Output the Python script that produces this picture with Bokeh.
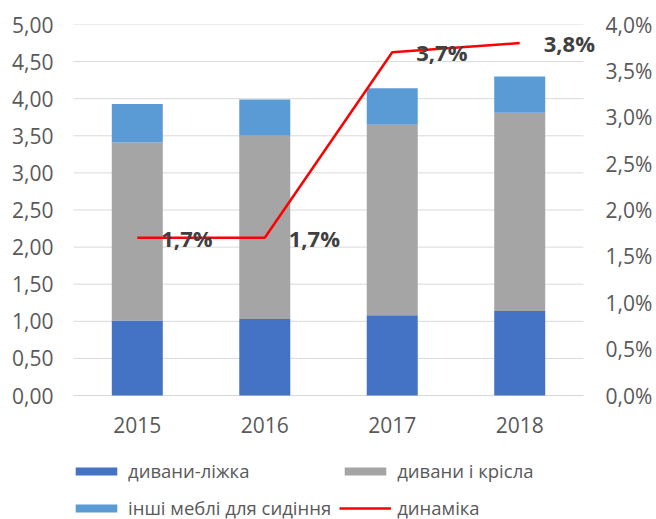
from bokeh.plotting import figure
from bokeh.models import (Range1d, LinearAxis, FixedTicker, CustomJSTickFormatter,
                          Legend, LegendItem, ColumnDataSource, LabelSet)
from bokeh.embed import file_html
from bokeh.resources import INLINE
from bokeh.core.properties import value

# ---- data ----
years = ["2015", "2016", "2017", "2018"]
sofa_beds = [1.01, 1.03, 1.08, 1.14]          # дивани-ліжка
sofas_chairs = [2.40, 2.47, 2.57, 2.67]       # дивани і крісла
other_seating = [0.52, 0.49, 0.49, 0.49]      # інші меблі для сидіння
dynamics = [1.7, 1.7, 3.7, 3.8]               # динаміка, %
dyn_labels = ["1,7%", "1,7%", "3,7%", "3,8%"]
left_ticks = [0, 0.5, 1, 1.5, 2, 2.5, 3, 3.5, 4, 4.5, 5]
right_ticks = [0, 0.5, 1, 1.5, 2, 2.5, 3, 3.5, 4]
series_names = ["дивани-ліжка", "дивани і крісла", "інші меблі для сидіння", "динаміка"]
colors = ["#4472C4", "#A5A5A5", "#5B9BD5"]

FONT = "Open Sans"
TXT = "#595959"
TICK_SIZE = "21px"

n = len(years)
xs = [i + 0.5 for i in range(n)]   # category centres
y_max, pct_max = left_ticks[-1], right_ticks[-1]
# the frame also holds the year labels and legend below the zero line
below_frac = 124 / 371

src = ColumnDataSource(dict(x=xs, a=sofa_beds, b=sofas_chairs, c=other_seating,
                            dyn=dynamics, lbl=dyn_labels, year=years, zero=[0] * n))
grid_src = ColumnDataSource(dict(y=left_ticks, x0=[0] * len(left_ticks), x1=[n] * len(left_ticks)))

p = figure(x_range=Range1d(-0.024, n + 0.118),
           y_range=Range1d(-y_max * below_frac, y_max),
           width=656, height=519, x_axis_location=None,
           output_backend="svg", toolbar_location=None,
           min_border_left=70, min_border_right=58, min_border_top=24, min_border_bottom=0)
p.outline_line_color = None
p.background_fill_color = "white"
p.border_fill_color = "white"
p.xgrid.visible = False
p.ygrid.visible = False

# horizontal gridlines spanning the category area only
p.segment(x0="x0", x1="x1", y0="y", y1="y", source=grid_src, line_color="#D9D9D9", line_width=1)

bars = p.vbar_stack(["a", "b", "c"], x="x", width=0.4, color=colors, source=src, line_color=None)

p.extra_y_ranges = {"pct": Range1d(-pct_max * below_frac, pct_max)}
line = p.line(x="x", y="dyn", source=src, y_range_name="pct", line_color="#FF0000", line_width=2.5)

labels = LabelSet(x="x", y="dyn", text="lbl", source=src, y_range_name="pct",
                  x_offset=24, text_baseline="middle", text_align="left",
                  text_font=value(FONT), text_font_style="bold", text_font_size="22px",
                  text_color="#404040")
p.add_layout(labels)

# category (year) labels under the bars
year_labels = LabelSet(x="x", y="zero", text="year", source=src, y_offset=-29,
                       text_baseline="middle", text_align="center",
                       text_font=value(FONT), text_font_size=TICK_SIZE, text_color=TXT)
p.add_layout(year_labels)

# left axis
ya = p.yaxis[0]
ya.axis_line_color = None
ya.major_tick_line_color = None
ya.minor_tick_line_color = None
ya.major_tick_out = 0
ya.major_tick_in = 0
ya.minor_tick_out = 0
ya.major_label_text_font = FONT
ya.major_label_text_font_size = TICK_SIZE
ya.major_label_text_color = TXT
ya.ticker = FixedTicker(ticks=left_ticks)
ya.formatter = CustomJSTickFormatter(code="return tick.toFixed(2).replace('.', ',');")
ya.major_label_standoff = 17

ra = LinearAxis(y_range_name="pct", ticker=FixedTicker(ticks=right_ticks),
                formatter=CustomJSTickFormatter(code="return tick.toFixed(1).replace('.', ',') + '%';"))
ra.axis_line_color = None
ra.major_tick_line_color = None
ra.minor_tick_line_color = None
ra.major_tick_out = 0
ra.major_tick_in = 0
ra.minor_tick_out = 0
ra.major_label_text_font = FONT
ra.major_label_text_font_size = TICK_SIZE
ra.major_label_text_color = TXT
ra.major_label_standoff = 7
p.add_layout(ra, "right")

legend = Legend(items=[LegendItem(label=series_names[0], renderers=[bars[0]]),
                       LegendItem(label=series_names[1], renderers=[bars[1]]),
                       LegendItem(label=series_names[2], renderers=[bars[2]]),
                       LegendItem(label=series_names[3], renderers=[line])],
                location=(0, -3), orientation="horizontal", ncols=2,
                glyph_width=52, glyph_height=10, label_standoff=6, label_width=200,
                label_height=29, spacing=8, padding=0, margin=0,
                border_line_color=None, background_fill_alpha=0,
                label_text_font=FONT, label_text_font_size="18.5px", label_text_color=TXT)
p.add_layout(legend)

open("out.html", "w").write(file_html(p, INLINE))
